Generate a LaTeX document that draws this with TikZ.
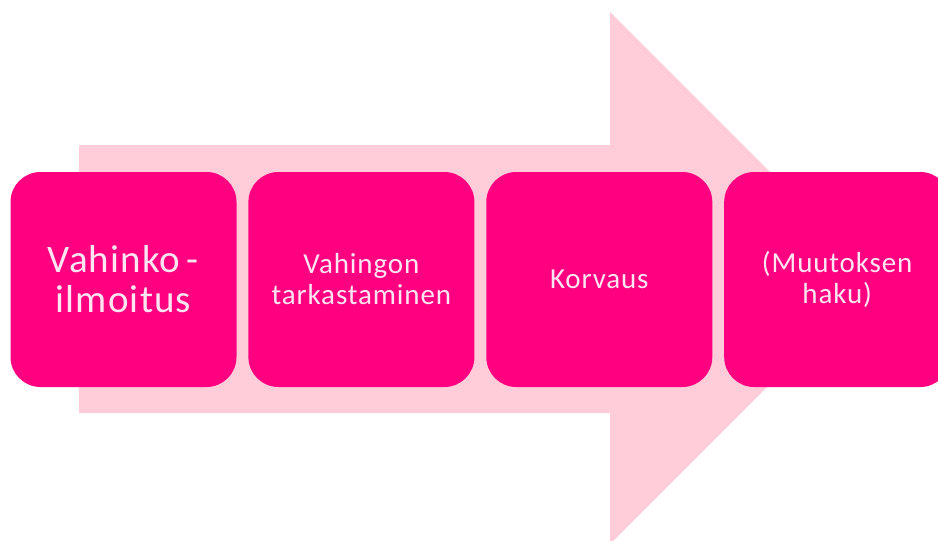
\documentclass[tikz,border=0pt]{standalone}
\usepackage{fontspec}
\setmainfont{Carlito}
\newfontfamily\phasefont[LetterSpace=3]{Carlito}
\usetikzlibrary{positioning}
\definecolor{phasepink}{HTML}{FF0080}
\definecolor{arrowpink}{HTML}{FFCCDA}
\colorlet{phasetext}{white!90!phasepink}

\begin{document}
\begin{tikzpicture}[x=1pt,y=-1pt,
	phase/.style={shape=rectangle,fill=phasepink,text=phasetext,rounded corners=30pt,minimum width=226pt,minimum height=215pt,text width=220pt,inner sep=0pt,align=center,font=\phasefont\fontsize{29}{31}\selectfont},
	node distance=11.5pt]
\useasboundingbox (0,0) rectangle (938,541);
% big arrow behind the phases
\fill[arrowpink] (79,145) -- (610,145) -- (610,12) -- (876,278) -- (610,544) -- (610,413) -- (79,413) -- cycle;
% phases
\node[phase,font=\phasefont\fontsize{39}{40}\selectfont] (p1) at (123.5,279.5) {Vahinko\,-\\ilmoitus};
\node[phase,right=of p1] (p2) {Vahingon\\tarkastaminen};
\node[phase,right=of p2] (p3) {Korvaus};
\node[phase,right=of p3] (p4) {(Muutoksen\\haku)};
\end{tikzpicture}
\end{document}
